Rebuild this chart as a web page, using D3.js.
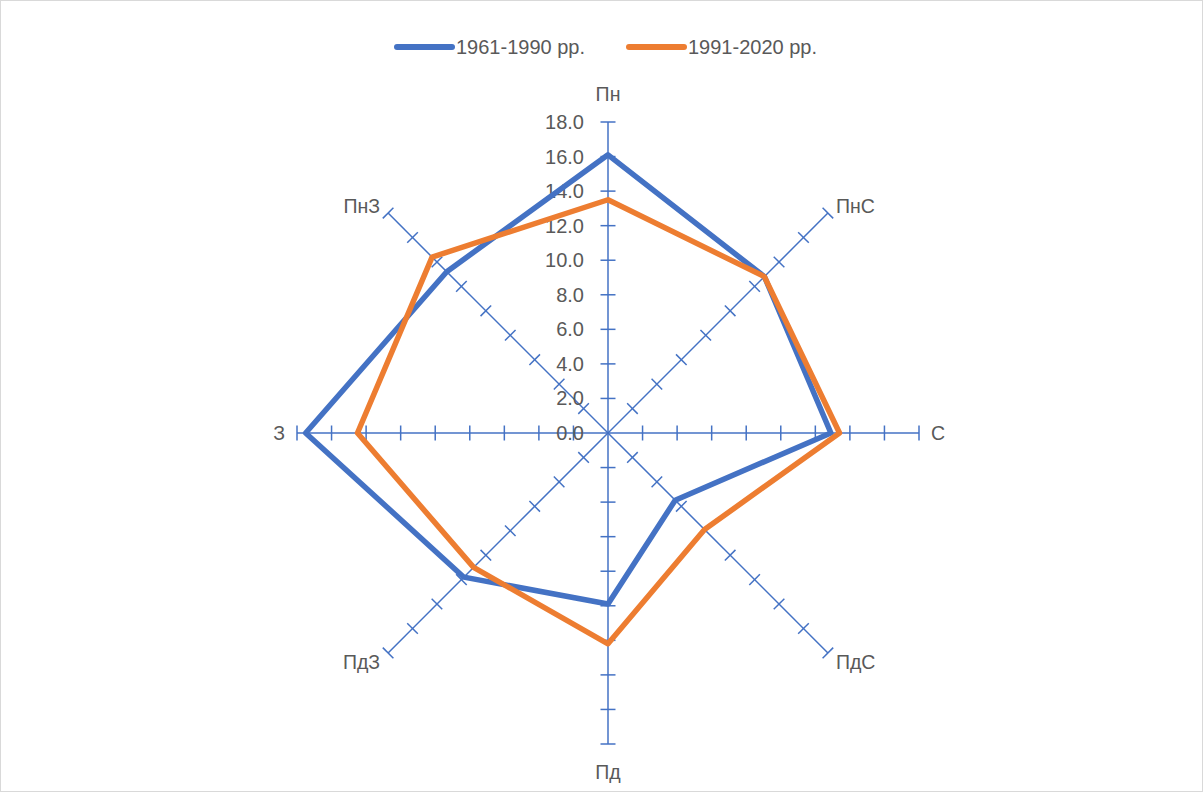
<!DOCTYPE html>
<html lang="en">
<head>
<meta charset="UTF-8"/>
<title>Radar chart</title>
<script src="https://d3js.org/d3.v7.min.js"></script>
<style>
    body { margin: 0; background: #fff; }
    text { font-family: "Liberation Sans", Arial, sans-serif; fill: #595959; }
</style>
</head>
<body>
<script>
    var w = 1203;
    var h = 792;

    var categories = ["Пн", "ПнС", "С", "ПдС", "Пд", "ПдЗ", "З", "ПнЗ"];
    var seriesNames = ["1961-1990 рр.", "1991-2020 рр."];
    var s1961 = [16.1, 12.8, 12.9, 5.5, 9.9, 11.8, 17.5, 13.2];
    var s1991 = [13.5, 12.8, 13.4, 7.9, 12.2, 11.0, 14.5, 14.4];
    var tickValues = [0, 2, 4, 6, 8, 10, 12, 14, 16, 18];
    var colors = ["#4472C4", "#ED7D31"];

    var cx = 608, cy = 433;
    var rScale = d3.scaleLinear().domain([0, 18]).range([0, 311]);
    var angle = function(i) { return i * 2 * Math.PI / categories.length; };

    var svg = d3.select("body").append("svg")
        .attr("width", w)
        .attr("height", h);

    svg.append("rect")
        .attr("x", 0.5).attr("y", 0.5)
        .attr("width", w - 1).attr("height", h - 1)
        .attr("fill", "white")
        .attr("stroke", "#d9d9d9");

    var g = svg.append("g").attr("transform", "translate(" + cx + "," + cy + ")");

    // spokes with tick marks
    categories.forEach(function(c, i) {
        var a = angle(i);
        var sx = Math.sin(a), sy = -Math.cos(a);
        var R = rScale(18);
        g.append("line")
            .attr("x1", 0).attr("y1", 0)
            .attr("x2", sx * R).attr("y2", sy * R)
            .attr("stroke", "#4472C4")
            .attr("stroke-width", 1.5);
        tickValues.slice(1).forEach(function(t) {
            var r = rScale(t);
            var px = sx * r, py = sy * r;
            var nx = -sy, ny = sx;
            g.append("line")
                .attr("x1", px - nx * 7.5).attr("y1", py - ny * 7.5)
                .attr("x2", px + nx * 7.5).attr("y2", py + ny * 7.5)
                .attr("stroke", "#4472C4")
                .attr("stroke-width", 1.5);
        });

        var lx = sx * (R + 28), ly = sy * (R + 28);
        var anchor = "middle";
        if (sx > 0.1) anchor = "start";
        if (sx < -0.1) anchor = "end";
        if (Math.abs(sy) > 0.1 && Math.abs(sx) > 0.1) {
            lx = sx * R + (sx > 0 ? 8 : -8);
            ly = sy * R + (sy < 0 ? -7 : 9);
        }
        if (Math.abs(sx) > 0.9) lx = sx * (R + 12);
        g.append("text")
            .attr("x", lx)
            .attr("y", ly)
            .attr("dy", "0.35em")
            .attr("text-anchor", anchor)
            .attr("font-size", "19.5px")
            .text(c);
    });

    // value labels on the north axis
    g.selectAll(".tick-label")
        .data(tickValues)
        .enter()
        .append("text")
        .attr("class", "tick-label")
        .attr("x", -24)
        .attr("y", function(d) { return -rScale(d); })
        .attr("dy", "0.35em")
        .attr("text-anchor", "end")
        .attr("font-size", "20px")
        .text(function(d) { return d.toFixed(1); });

    var radial = d3.lineRadial()
        .angle(function(d, i) { return angle(i); })
        .radius(function(d) { return rScale(d); })
        .curve(d3.curveLinearClosed);

    [s1961, s1991].forEach(function(s, k) {
        g.append("path")
            .attr("d", radial(s))
            .attr("fill", "none")
            .attr("stroke", colors[k])
            .attr("stroke-width", 5.5)
            .attr("stroke-linejoin", "round");
    });

    // legend
    var legendX = [397, 629];
    seriesNames.forEach(function(name, k) {
        svg.append("line")
            .attr("x1", legendX[k]).attr("y1", 47)
            .attr("x2", legendX[k] + 55).attr("y2", 47)
            .attr("stroke", colors[k])
            .attr("stroke-width", 6)
            .attr("stroke-linecap", "round");
        svg.append("text")
            .attr("x", legendX[k] + 59)
            .attr("y", 47)
            .attr("dy", "0.35em")
            .attr("font-size", "20px")
            .text(name);
    });
</script>
</body>
</html>
